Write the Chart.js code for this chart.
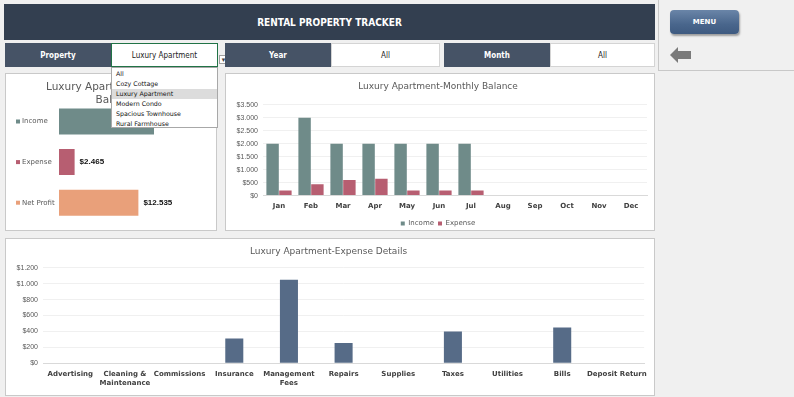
<!DOCTYPE html>
<html>
<head>
<meta charset="utf-8">
<script src="https://cdn.jsdelivr.net/npm/chart.js@4.4.0/dist/chart.umd.min.js"></script>
<style>
body { margin:0; width:794px; height:397px; overflow:hidden; background:#f0f0f0; position:relative; font-family:'DejaVu Sans', sans-serif; }
.abs { position:absolute; box-sizing:border-box; }
.head { left:4px; top:4px; width:651px; height:36px; background:#333f50; color:#fff; font:bold 10px 'DejaVu Sans Condensed',sans-serif; display:flex; align-items:center; justify-content:center; }
.cell { top:43px; height:24px; display:flex; align-items:center; justify-content:center; font:8px 'DejaVu Sans Condensed',sans-serif; }
.dark { background:#465366; color:#fff; font-weight:bold; }
.white { background:#fff; color:#222; border:1px solid #d4d4d4; }
.panel { background:#fff; border:1px solid #c9c9c9; }
.wrap { position:absolute; left:0; top:0; right:0; bottom:0; }
.menu { left:670px; top:10px; width:69px; height:24px; border-radius:4px; background:linear-gradient(#6a85a8,#49668c 60%,#3e5a80); color:#fff; font:bold 7px 'DejaVu Sans',sans-serif; display:flex; align-items:center; justify-content:center; box-shadow:1px 2px 2px rgba(0,0,0,0.35); }
.list { left:111px; top:67px; width:107px; height:61px; background:#fff; border:1px solid #a8a8a8; z-index:5; font:6.3px 'DejaVu Sans',sans-serif; color:#111; padding-top:1px; }
.list div { height:10px; line-height:10px; padding-left:4px; }
.list .sel { background:#dcdcdc; }
</style>
</head>
<body>
<div class="abs head">RENTAL PROPERTY TRACKER</div>
<div class="abs cell dark" style="left:5px;width:106px;">Property</div>
<div class="abs cell white" style="left:111px;width:107px;border:1px solid #217346;">Luxury Apartment</div>
<div class="abs" style="left:219px;top:55px;width:9px;height:9px;background:#fff;border:1px solid #a0a0a0;font:6px sans-serif;color:#444;text-align:center;line-height:8px;">&#9660;</div>
<div class="abs cell dark" style="left:225px;width:106px;">Year</div>
<div class="abs cell white" style="left:331px;width:109px;">All</div>
<div class="abs cell dark" style="left:444px;width:106px;">Month</div>
<div class="abs cell white" style="left:550px;width:105px;">All</div>
<div class="abs menu">MENU</div>
<svg class="abs" style="left:670px;top:47px;" width="22" height="17"><polygon points="0,8 8,0 8,4 21,4 21,12 8,12 8,16" fill="#7a7a7a"/></svg>
<div class="abs" style="left:658px;top:0;width:1px;height:70px;background:#c8c8c8;"></div>
<div class="abs" style="left:658px;top:70px;width:136px;height:1px;background:#c8c8c8;"></div>

<div class="abs panel" style="left:5px;top:73px;width:212px;height:158px;"><div class="wrap"><canvas id="balanceChart"></canvas></div></div>
<div class="abs panel" style="left:225px;top:73px;width:430px;height:158px;"><div class="wrap"><canvas id="monthChart"></canvas></div></div>
<div class="abs panel" style="left:5px;top:238px;width:650px;height:158px;"><div class="wrap"><canvas id="expenseChart"></canvas></div></div>

<div class="abs list">
  <div>All</div>
  <div>Cozy Cottage</div>
  <div class="sel">Luxury Apartment</div>
  <div>Modern Condo</div>
  <div>Spacious Townhouse</div>
  <div>Rural Farmhouse</div>
</div>

<script>
// data
const months = ['Jan', 'Feb', 'Mar', 'Apr', 'May', 'Jun', 'Jul', 'Aug', 'Sep', 'Oct', 'Nov', 'Dec'];
const incomeData = [2000, 3000, 2000, 2000, 2000, 2000, 2000, null, null, null, null, null];
const expenseData = [195, 440, 600, 645, 195, 195, 195, null, null, null, null, null];

const expenseCategories = ['Advertising', ['Cleaning &', 'Maintenance'], 'Commissions', 'Insurance', ['Management', 'Fees'], 'Repairs', 'Supplies', 'Taxes', 'Utilities', 'Bills', 'Deposit Return'];
const expenseValues = [0, 0, 0, 310, 1050, 255, 0, 400, 0, 450, 0];

const balanceLabels = ['Income', 'Expense', 'Net Profit'];
const balanceColors = ['#6f8b89', '#b75e71', '#e9a07a'];

const sum = arr => arr.reduce((a, b) => a + (b || 0), 0);
const totalIncome = sum(incomeData);
const totalExpense = sum(expenseData);
const balanceValues = [totalIncome, totalExpense, totalIncome - totalExpense];

const money = v => '$' + String(v).replace(/\B(?=(\d{3})+(?!\d))/g, '.');

Chart.defaults.font.family = "'DejaVu Sans', sans-serif";
Chart.defaults.color = '#595959';
Chart.defaults.animation = false;

const titleFont = { size: 9, weight: 'normal' };

// small coloured squares in front of the category names
const catSquares = {
    id: 'catSquares',
    afterDraw(chart) {
        const y = chart.scales.y;
        const ctx = chart.ctx;
        y.ticks.forEach((t, i) => {
            const py = y.getPixelForTick(i);
            ctx.fillStyle = balanceColors[i];
            ctx.fillRect(y.left - 6, py - 2, 4, 4);
        });
    }
};

// value labels at the end of the bars
const valueLabels = {
    id: 'valueLabels',
    afterDatasetsDraw(chart) {
        const ctx = chart.ctx;
        const meta = chart.getDatasetMeta(0);
        ctx.save();
        ctx.font = "bold 8px 'Liberation Sans', sans-serif";
        ctx.fillStyle = '#111';
        ctx.textBaseline = 'middle';
        meta.data.forEach((bar, i) => {
            ctx.fillText(money(chart.data.datasets[0].data[i]), bar.x + 5, bar.y);
        });
        ctx.restore();
    }
};

// balance chart
const balanceCtx = document.getElementById('balanceChart').getContext('2d');
const balanceChart = new Chart(balanceCtx, {
    type: 'bar',
    data: {
        labels: balanceLabels,
        datasets: [{
            data: balanceValues,
            backgroundColor: balanceColors,
            categoryPercentage: 0.8,
            barPercentage: 0.8
        }]
    },
    options: {
        indexAxis: 'y',
        responsive: true,
        maintainAspectRatio: false,
        layout: { padding: { left: 16, right: 5, top: 0, bottom: 7 } },
        plugins: {
            legend: { display: false },
            tooltip: { enabled: false },
            title: { display: true, text: ['Luxury Apartment-Monthly', 'Balance'], font: { size: 10.5, weight: 'normal' }, lineHeight: 1.05, color: '#595959', padding: { top: 7, bottom: -5 } }
        },
        scales: {
            x: { display: false, min: 0, max: 24000 },
            y: {
                grid: { display: false },
                border: { display: false },
                ticks: { font: { size: 7 }, color: '#595959', crossAlign: 'far', padding: 2 },
                afterFit(scale) { scale.width = 37; }
            }
        }
    },
    plugins: [catSquares, valueLabels]
});

// month chart
const monthCtx = document.getElementById('monthChart').getContext('2d');
const monthChart = new Chart(monthCtx, {
    type: 'bar',
    data: {
        labels: months,
        datasets: [{
            label: 'Income',
            data: incomeData,
            backgroundColor: '#6f8b89',
            categoryPercentage: 0.8,
            barPercentage: 0.97
        }, {
            label: 'Expense',
            data: expenseData,
            backgroundColor: '#b75e71',
            categoryPercentage: 0.8,
            barPercentage: 0.97
        }]
    },
    options: {
        responsive: true,
        maintainAspectRatio: false,
        layout: { padding: { left: 3, right: 7, top: 0, bottom: -7 } },
        plugins: {
            tooltip: { enabled: false },
            title: { display: true, text: 'Luxury Apartment-Monthly Balance', font: titleFont, color: '#595959', padding: { top: 7, bottom: 13 } },
            legend: {
                position: 'bottom',
                labels: { boxWidth: 4, boxHeight: 4, padding: 4, font: { size: 7 }, color: '#595959' }
            }
        },
        scales: {
            y: {
                min: 0, max: 3500,
                ticks: { stepSize: 500, callback: v => money(v), font: { family: "'Liberation Sans', sans-serif", size: 7 }, color: '#595959', padding: 5 },
                grid: { color: '#f0f0f0', drawTicks: false },
                border: { display: false },
                afterFit(scale) { scale.width = 34; }
            },
            x: {
                grid: { display: false, drawTicks: false },
                border: { color: '#d9d9d9' },
                ticks: { font: { size: 7, weight: 'bold' }, color: '#404040', padding: 6 }
            }
        }
    }
});

// expense chart
const expenseCtx = document.getElementById('expenseChart').getContext('2d');
const expenseChart = new Chart(expenseCtx, {
    type: 'bar',
    data: {
        labels: expenseCategories,
        datasets: [{
            label: 'Expense',
            data: expenseValues,
            backgroundColor: '#566b87',
            categoryPercentage: 1,
            barPercentage: 0.33
        }]
    },
    options: {
        responsive: true,
        maintainAspectRatio: false,
        layout: { padding: { left: 4, right: 7, top: 0, bottom: 1 } },
        plugins: {
            legend: { display: false },
            tooltip: { enabled: false },
            title: { display: true, text: 'Luxury Apartment-Expense Details', font: titleFont, color: '#595959', padding: { top: 7, bottom: 11 } }
        },
        scales: {
            y: {
                min: 0, max: 1200,
                ticks: { stepSize: 200, callback: v => money(v), font: { family: "'Liberation Sans', sans-serif", size: 7 }, color: '#595959', padding: 5 },
                grid: { color: '#f0f0f0', drawTicks: false },
                border: { display: false },
                afterFit(scale) { scale.width = 33; }
            },
            x: {
                grid: { display: false, drawTicks: false },
                border: { color: '#d9d9d9' },
                ticks: { font: { size: 7, weight: 'bold' }, color: '#404040', padding: 7, autoSkip: false, maxRotation: 0 }
            }
        }
    }
});
</script>
</body>
</html>
